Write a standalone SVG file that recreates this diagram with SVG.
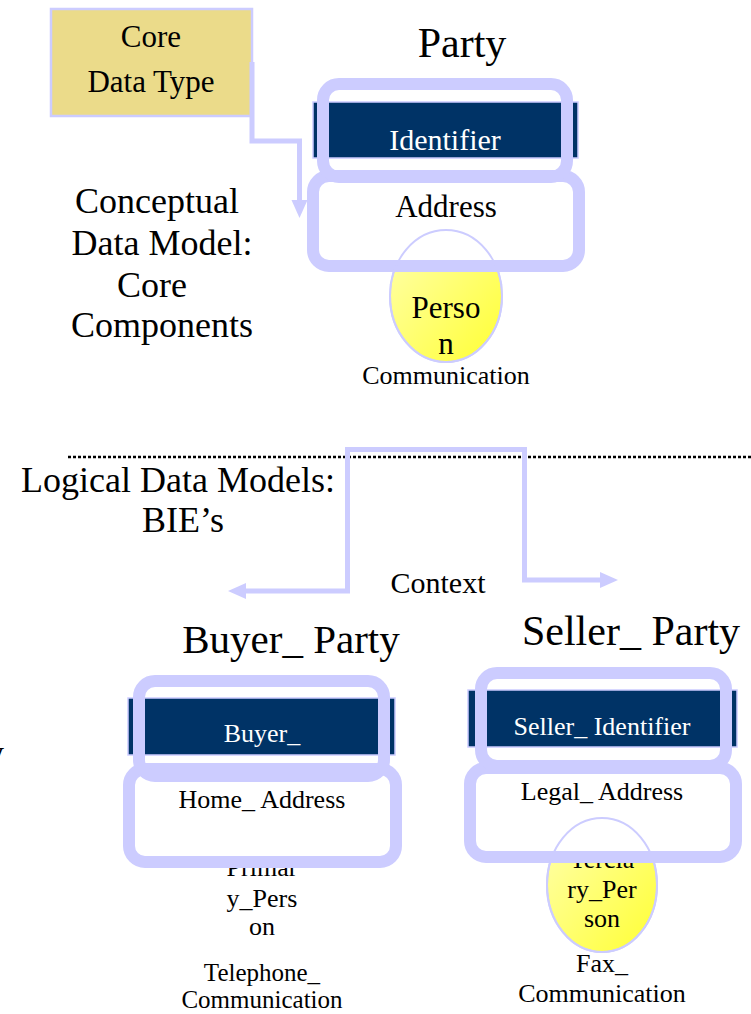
<svg xmlns="http://www.w3.org/2000/svg" width="751" height="1014" viewBox="0 0 751 1014">
<style>
text{font-family:"Liberation Serif","Times New Roman",serif;fill:#000}
.c{text-anchor:middle}
.w{fill:#fff}
.bar{fill:#003366;stroke:#ccccff;stroke-width:1.5}
.rr{fill:none;stroke:#ccccff;stroke-width:12}
.rrw{fill:#fff;stroke:#ccccff;stroke-width:12}
.ell{fill:url(#yg);stroke:#ccccff;stroke-width:2}
.elo{fill:none;stroke:#ccccff;stroke-width:2}
.con{fill:none;stroke:#ccccff;stroke-width:5}
</style>
<defs>
<linearGradient id="yg" x1="0" y1="0" x2="1" y2="1">
<stop offset="0" stop-color="#ffffb0"/>
<stop offset="1" stop-color="#ffff33"/>
</linearGradient>
<marker id="ah" markerUnits="userSpaceOnUse" markerWidth="18" markerHeight="16" refX="0" refY="8" orient="auto" overflow="visible">
<path d="M0,0 L18,8 L0,16 Z" fill="#ccccff"/>
</marker>
</defs>

<rect width="751" height="1014" fill="#fff"/>

<line x1="68" y1="457" x2="751" y2="457" stroke="#000" stroke-width="2.5" stroke-dasharray="3,2"/>

<g id="labels">
<text class="c" x="157" y="213" font-size="36">Conceptual</text>
<text class="c" x="162" y="255" font-size="36">Data Model:</text>
<text class="c" x="152" y="297" font-size="36">Core</text>
<text class="c" x="162" y="337" font-size="36">Components</text>
<text x="21" y="492" font-size="36">Logical Data Models:</text>
<text class="c" x="183" y="532" font-size="36">BIE’s</text>
<text class="c" x="438" y="593" font-size="30">Context</text>
<text x="-14" y="765" font-size="36">y</text>
</g>

<g id="core-data-type">
<rect x="51" y="9" width="201" height="107" fill="#ebdb8a" stroke="#ccccff" stroke-width="2.5"/>
<text class="c" x="151" y="47" font-size="31">Core</text>
<text class="c" x="151" y="92" font-size="31">Data Type</text>
</g>

<g id="party">
<text class="c" x="462" y="57" font-size="42">Party</text>
<rect class="bar" x="313" y="102" width="265" height="56"/>
<text class="c w" x="445" y="150" font-size="30">Identifier</text>
<ellipse class="ell" cx="446" cy="296" rx="56" ry="66"/>
<text class="c" x="446" y="318" font-size="31">Perso</text>
<text class="c" x="446" y="354" font-size="31">n</text>
<rect class="rrw" x="313" y="176" width="266" height="90" rx="16"/>
<ellipse class="elo" cx="446" cy="296" rx="56" ry="66"/>
<rect class="rr" x="323" y="84" width="244" height="93" rx="16"/>
<text class="c" x="446" y="217" font-size="31">Address</text>
<text class="c" x="446" y="384" font-size="26">Communication</text>
</g>

<g id="buyer-party">
<text class="c" x="291" y="653" font-size="41">Buyer_ Party</text>
<rect class="bar" x="128" y="698" width="267" height="57"/>
<text class="c w" x="262" y="742" font-size="26">Buyer_</text>
<text class="c" x="262" y="876" font-size="26">Primar</text>
<text class="c" x="262" y="907" font-size="26">y_Pers</text>
<text class="c" x="262" y="935" font-size="26">on</text>
<rect class="rrw" x="129" y="769" width="267" height="93" rx="16"/>
<rect class="rr" x="139" y="681" width="245" height="95" rx="16"/>
<text class="c" x="262" y="808" font-size="26">Home_ Address</text>
<text class="c" x="262" y="981" font-size="25">Telephone_</text>
<text class="c" x="262" y="1008" font-size="25">Communication</text>
</g>

<g id="seller-party">
<text class="c" x="631" y="645" font-size="42">Seller_ Party</text>
<rect class="bar" x="468" y="690" width="269" height="57"/>
<text class="c w" x="602" y="735" font-size="26">Seller_ Identifier</text>
<ellipse class="ell" cx="602" cy="885" rx="55" ry="67"/>
<text class="c" x="602" y="868" font-size="26">Tercia</text>
<text class="c" x="602" y="898" font-size="26">ry_Per</text>
<text class="c" x="602" y="927" font-size="26">son</text>
<rect class="rrw" x="470" y="768" width="266" height="89" rx="16"/>
<ellipse class="elo" cx="602" cy="885" rx="55" ry="67"/>
<rect class="rr" x="481" y="673" width="245" height="93" rx="16"/>
<text class="c" x="602" y="800" font-size="26">Legal_ Address</text>
<text class="c" x="602" y="972" font-size="26">Fax_</text>
<text class="c" x="602" y="1002" font-size="26">Communication</text>
</g>

<g id="connectors">
<path class="con" d="M252,62 V141 H299.5 V200" stroke-width="6" marker-end="url(#ah)"/>
<path class="con" d="M347.5,447 V591 H246" marker-end="url(#ah)"/>
<path class="con" d="M345,449.5 H524.5 V580 H600" marker-end="url(#ah)"/>
</g>
</svg>
